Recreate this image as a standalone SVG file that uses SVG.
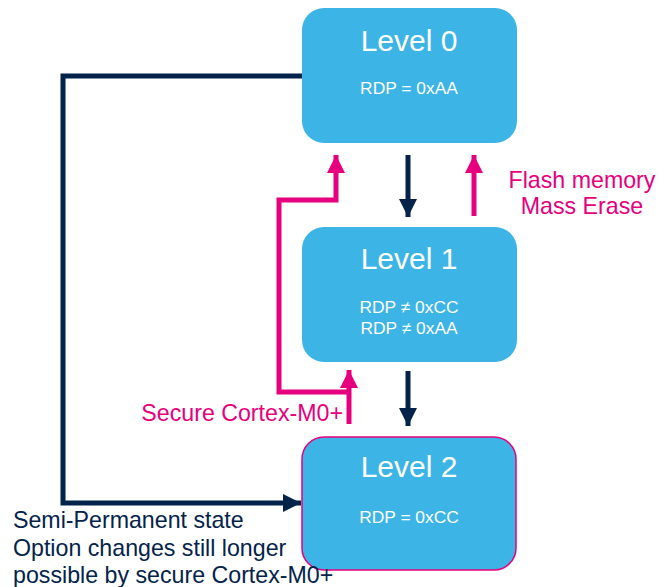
<svg xmlns="http://www.w3.org/2000/svg" width="665" height="587" viewBox="0 0 665 587">
<style>
.box{fill:#3CB4E6;}
.title{font-family:"Liberation Sans",Arial,sans-serif;font-size:30px;fill:#fff;text-anchor:middle;}
.sub{font-family:"Liberation Sans",Arial,sans-serif;font-size:17.4px;fill:#fff;text-anchor:middle;}
.pinkT{font-family:"Liberation Sans",Arial,sans-serif;font-size:23.2px;fill:#E6007E;}
.navyT{font-family:"Liberation Sans",Arial,sans-serif;font-size:23.2px;fill:#03234B;}
.navy{stroke:#03234B;stroke-width:5;fill:none;}
.pink{stroke:#E6007E;stroke-width:5;fill:none;}
</style>
<defs>
<marker id="ahN" markerUnits="userSpaceOnUse" markerWidth="18" markerHeight="18" viewBox="0 0 18 18" refX="18" refY="9" orient="auto"><path d="M0,0 L18,9 L0,18 Z" fill="#03234B"/></marker>
<marker id="ahP" markerUnits="userSpaceOnUse" markerWidth="18" markerHeight="18" viewBox="0 0 18 18" refX="18" refY="9" orient="auto"><path d="M0,0 L18,9 L0,18 Z" fill="#E6007E"/></marker>
</defs>
<g id="connectors">
<path class="navy" d="M303,76 H63 V503 H301" marker-end="url(#ahN)"/>
<path class="navy" d="M408,155 V217" marker-end="url(#ahN)"/>
<path class="navy" d="M408,371 V426" marker-end="url(#ahN)"/>
<path class="pink" d="M474,216 V155" marker-end="url(#ahP)"/>
<path class="pink" d="M349,424 V370" marker-end="url(#ahP)"/>
<path class="pink" d="M349,392 H279 V200 H336 V155" marker-end="url(#ahP)"/>
</g>
<g id="level0">
<rect class="box" x="302" y="8" width="215" height="135" rx="22"/>
<text class="title" x="409" y="51">Level 0</text>
<text class="sub" x="409" y="94">RDP = 0xAA</text>
</g>
<g id="level1">
<rect class="box" x="302" y="227" width="215" height="135" rx="22"/>
<text class="title" x="409" y="269">Level 1</text>
<text class="sub" x="409" y="313">RDP ≠ 0xCC</text>
<text class="sub" x="409" y="334">RDP ≠ 0xAA</text>
</g>
<g id="level2">
<rect class="box" x="302" y="437" width="214" height="133" rx="22" stroke="#E6007E" stroke-width="1.5"/>
<text class="title" x="409" y="477">Level 2</text>
<text class="sub" x="409" y="523">RDP = 0xCC</text>
</g>
<g id="labels">
<text class="pinkT" x="582" y="188" text-anchor="middle">Flash memory</text>
<text class="pinkT" x="582" y="214" text-anchor="middle">Mass Erase</text>
<text class="pinkT" x="343" y="421" text-anchor="end">Secure Cortex-M0+</text>
<text class="navyT" x="13" y="528">Semi-Permanent state</text>
<text class="navyT" x="13" y="556">Option changes still longer</text>
<text class="navyT" x="13" y="583">possible by secure Cortex-M0+</text>
</g>
</svg>
